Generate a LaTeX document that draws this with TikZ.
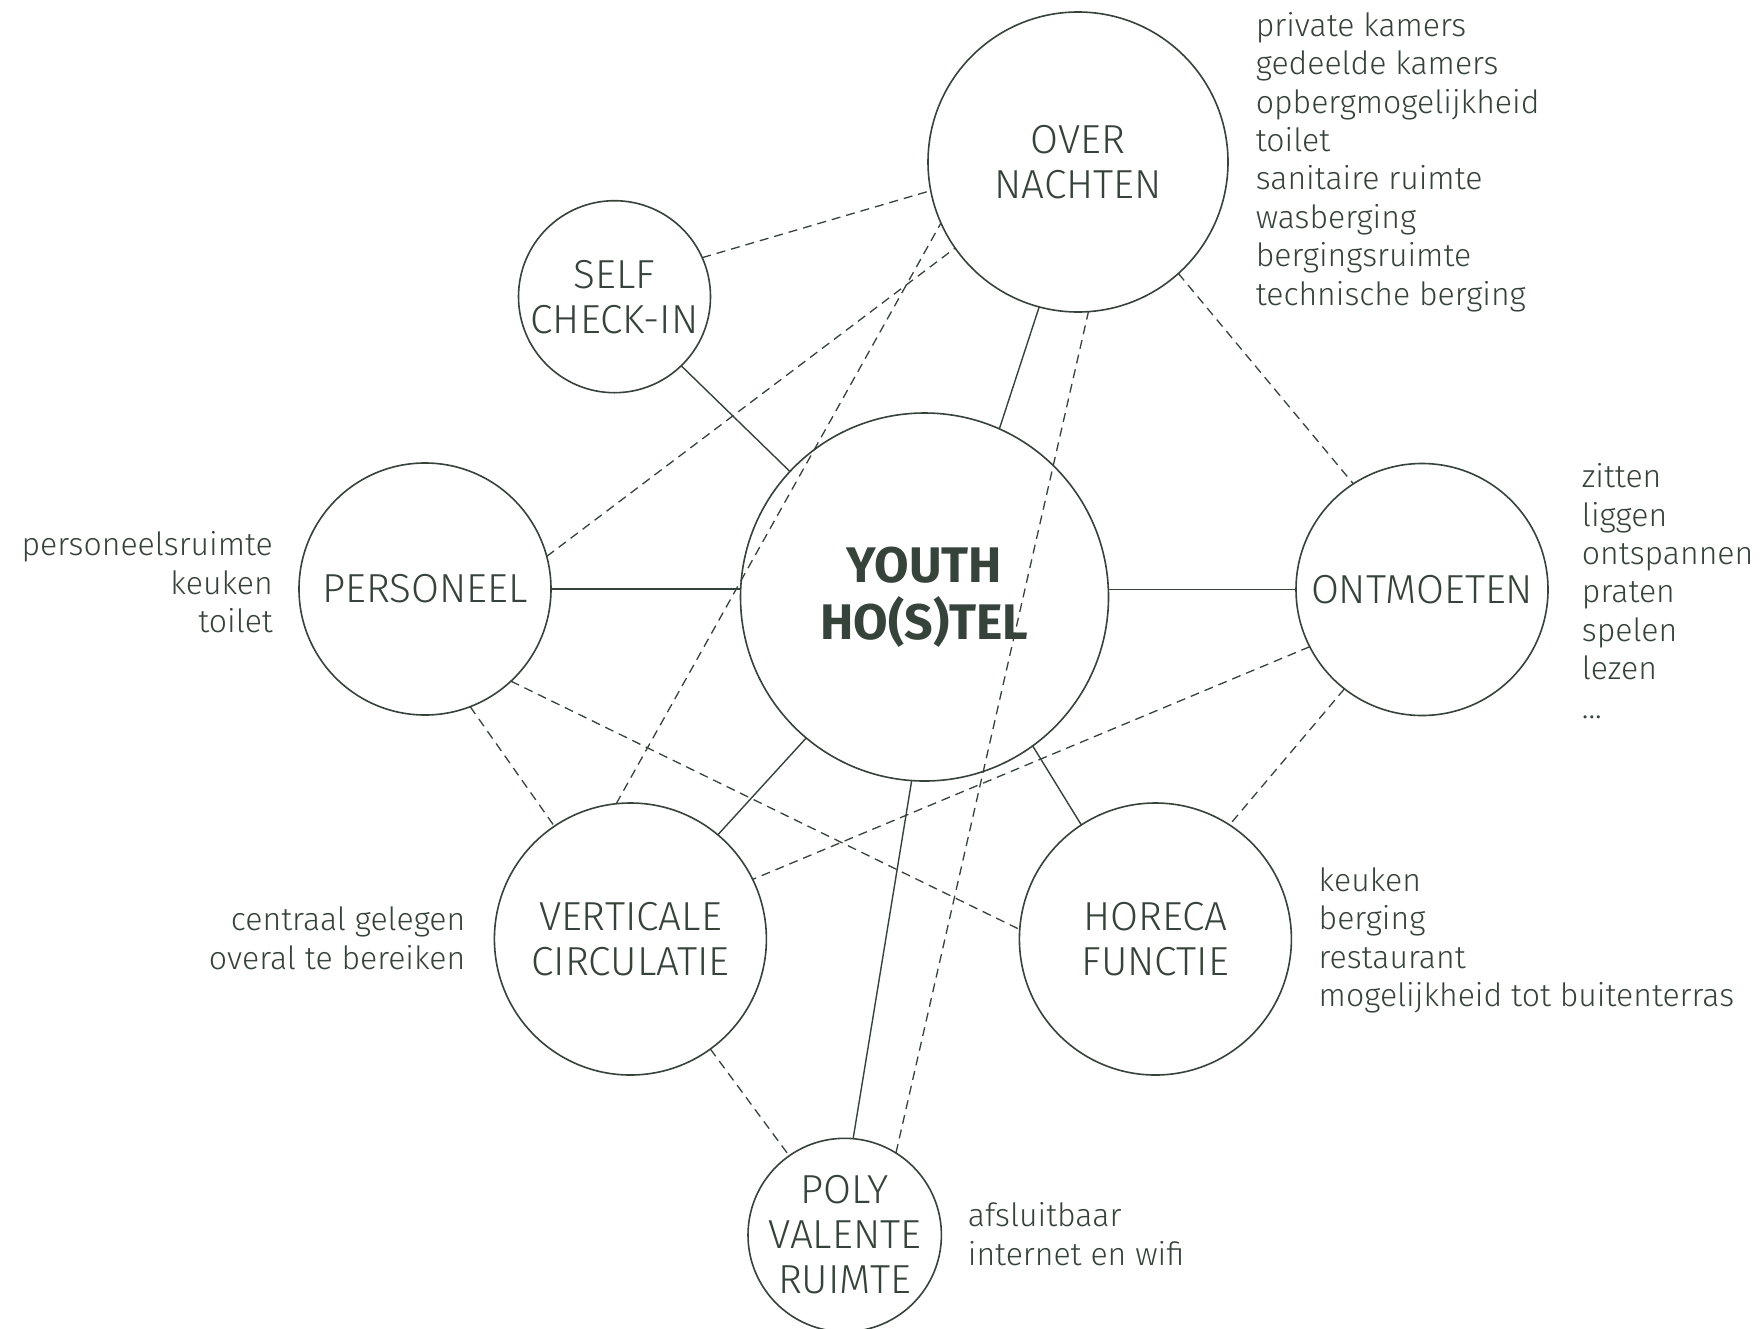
\documentclass[tikz,border=0pt]{standalone}
\usepackage{fontspec}
\IfFontExistsTF{Fira Sans Light}{\setmainfont{Fira Sans Light}}{\IfFontExistsTF{Lato Light}{\setmainfont{Lato Light}}{\setmainfont{Fira Sans}}}
\newfontfamily\youthfont{Fira Sans}
\definecolor{ink}{HTML}{36433A}
\begin{document}
\begin{tikzpicture}[x=1pt,y=-1pt,
  bub/.style={circle,draw=ink,line width=1.6pt,inner sep=0pt,outer sep=0pt,
    minimum size=#1,align=center,text=ink,font=\fontsize{40.5}{45}\selectfont},
  lst/.style={text=ink,inner sep=0pt,font=\fontsize{32}{38.4}\selectfont},
  solidc/.style={draw=ink,line width=1.4pt},
  dashc/.style={draw=ink,line width=1.3pt,dash pattern=on 9pt off 6pt}]
\useasboundingbox[fill=white] (0,0) rectangle (1760,1328);
% circles
\node[bub=368pt,font=\youthfont\bfseries\fontsize{50}{57}\selectfont] (youth) at (924.5,597) {YOUTH\\HO(S)TEL};
\node[bub=300pt] (over) at (1078,162) {OVER\\NACHTEN};
\node[bub=192pt] (self) at (614.5,296.7) {SELF\\CHECK-IN};
\node[bub=252pt] (pers) at (425,589) {PERSONEEL};
\node[bub=252pt] (ontm) at (1422,589.5) {ONTMOETEN};
\node[bub=272pt] (vert) at (630.4,939) {VERTICALE\\CIRCULATIE};
\node[bub=272pt] (hor) at (1155.4,939) {HORECA\\FUNCTIE};
\node[bub=192pt] (poly) at (844.7,1235) {POLY\\VALENTE\\RUIMTE};
% lists (base anchor = baseline of last line)
\node[lst,align=left,anchor=base west] (overl) at (1255.6,305) {private kamers\\gedeelde kamers\\opbergmogelijkheid\\toilet\\sanitaire ruimte\\wasberging\\bergingsruimte\\technische berging};
\node[lst,align=left,anchor=base west] (ontml) at (1581.7,718) {zitten\\liggen\\ontspannen\\praten\\spelen\\lezen\\...};
\node[lst,align=right,anchor=base east] (persl) at (273,632.7) {personeelsruimte\\keuken\\toilet};
\node[lst,align=right,anchor=base east] (vertl) at (465.5,969.3) {centraal gelegen\\overal te bereiken};
\node[lst,align=left,anchor=base west] (horl) at (1318.5,1006.7) {keuken\\berging\\restaurant\\mogelijkheid tot buitenterras};
\node[lst,align=left,anchor=base west] (polyl) at (967.7,1265) {afsluitbaar\\internet en wifi};
% solid connectors
\draw[solidc] (self.314) -- (youth.137.8);
\draw[solidc] (pers.east) -- (pers.east -| youth.west);
\draw[solidc] (ontm.west) -- (ontm.west -| youth.east);
\draw[solidc] (over.255.8) -- (youth.66.4);
\draw[solidc] (vert.50.8) -- (youth.230.7);
\draw[solidc] (hor.123) -- (youth.306.2);
\draw[solidc] (poly.85.8) -- (youth.266);
% dashed connectors
\draw[dashc] (self.24.3) -- (over.191.4);
\draw[dashc] (pers.15.9) -- (over.215);
\draw[dashc] (vert.96) -- (over.204);
\draw[dashc] (poly.58.5) -- (over.274.3);
\draw[dashc] (over.312.3) -- (ontm.123.3);
\draw[dashc] (ontm.207.1) -- (vert.26);
\draw[dashc] (ontm.232.2) -- (hor.57.3);
\draw[dashc] (pers.313.3) -- (hor.176.2);
\draw[dashc] (pers.291.6) -- (vert.124.7);
\draw[dashc] (vert.306.4) -- (poly.125.5);
\end{tikzpicture}
\end{document}
